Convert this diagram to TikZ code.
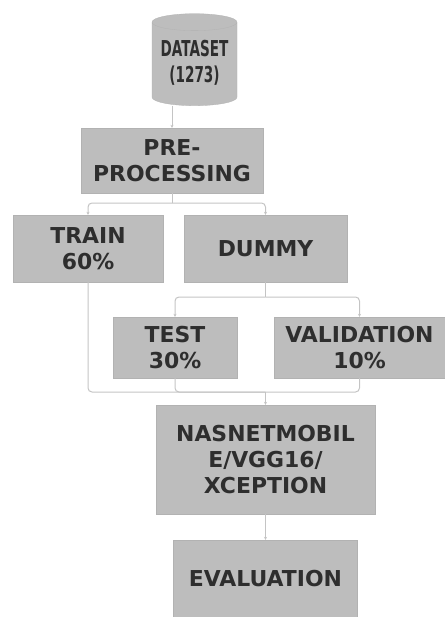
\documentclass[tikz,border=0pt]{standalone}
\usepackage{fontspec}
\setmainfont{DejaVu Sans}
\usetikzlibrary{shapes.geometric,arrows.meta}
\definecolor{boxgray}{HTML}{BDBDBD}
\definecolor{linkgray}{HTML}{C4C4C4}
\definecolor{inkgray}{HTML}{2E2E2E}
\tikzset{
  box/.style={rectangle, fill=boxgray, draw=black!30, line width=.3bp, inner sep=0pt,
    align=center, text=inkgray, font=\fontsize{22}{26}\selectfont\bfseries},
  link/.style={draw=linkgray, line width=1bp, rounded corners=4bp},
  tip/.style={-{Stealth[length=3bp,width=3bp]}}
}
\begin{document}
\begin{tikzpicture}[x=1bp,y=-1bp]
 \useasboundingbox (0,0) rectangle (445,617);
 % database on top
 \node (data) [box, shape=cylinder, shape border rotate=90, aspect=.25,
   minimum width=85bp, minimum height=92bp] at (194.5,64)
   {\scalebox{.62}[1]{\begin{tabular}{@{}c@{}}DATASET\\(1273)\end{tabular}}};
 \node (pre) [box, minimum width=182bp, minimum height=65bp] at (172,160.5) {PRE-\\PROCESSING};
 \node (train) [box, minimum width=150bp, minimum height=67bp] at (88,248.5) {TRAIN\\60\%};
 \node (dummy) [box, minimum width=163bp, minimum height=67bp] at (265.5,248.5) {DUMMY};
 \node (test) [box, minimum width=124bp, minimum height=61bp] at (175,347.5) {TEST\\30\%};
 \node (val) [box, minimum width=171bp, minimum height=61bp] at (359.5,347.5) {VALIDATION\\10\%};
 \node (nas) [box, minimum width=219bp, minimum height=109bp] at (265.5,459.5) {NASNETMOBIL\\E/VGG16/\\XCEPTION};
 \node (eval) [box, minimum width=184bp, minimum height=77bp] at (265.5,578.5) {EVALUATION};
 % forks and joins
 \coordinate (fork1) at (172,203);
 \coordinate (fork2) at (265.5,297);
 \coordinate (join) at (265.5,392);
 \draw[link,tip] (pre.north |- data.south) -- (pre.north);
 \draw[link] (pre.south) -- (fork1);
 \draw[link,tip] (fork1) -| (train.north);
 \draw[link,tip] (fork1) -| (dummy.north);
 \draw[link] (dummy.south) -- (fork2);
 \draw[link,tip] (fork2) -| (test.north);
 \draw[link,tip] (fork2) -| (val.north);
 \draw[link] (train.south) |- (join);
 \draw[link] (test.south) |- (join);
 \draw[link] (val.south) |- (join);
 \draw[link,tip] (join) -- (nas.north);
 \draw[link,tip] (nas.south) -- (eval.north);
\end{tikzpicture}
\end{document}
